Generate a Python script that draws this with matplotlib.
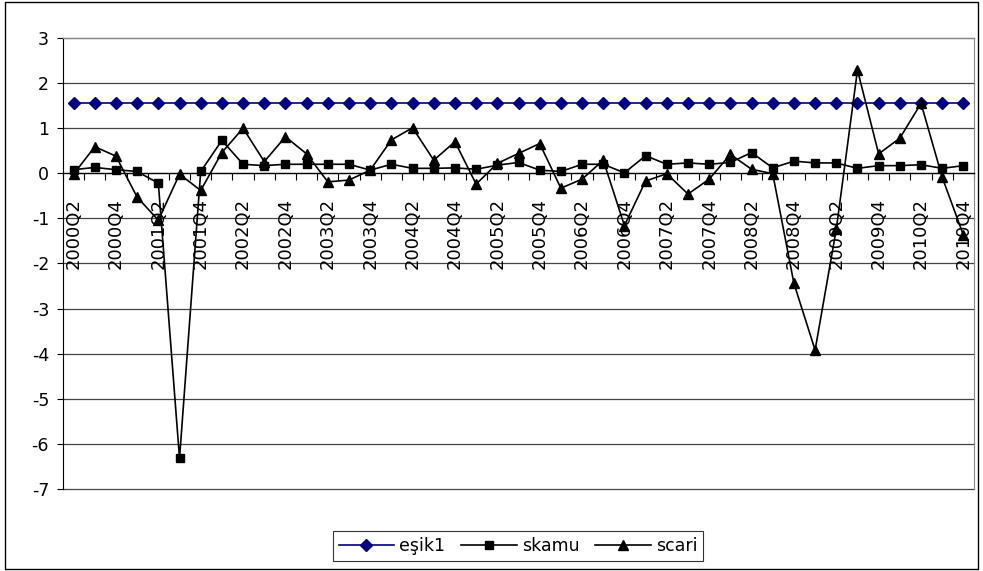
import matplotlib
matplotlib.use("Agg")
import matplotlib.pyplot as plt
from matplotlib.patches import Rectangle
import numpy as np

quarters = [f"{y}Q{q}" for y in range(2000, 2011) for q in range(1, 5)][1:]
esik1 = [1.55] * 43
skamu = [0.08, 0.13, 0.08, 0.04, -0.22, -6.32, 0.04, 0.73, 0.20, 0.17,
         0.20, 0.20, 0.20, 0.20, 0.07, 0.20, 0.11, 0.11, 0.12, 0.09,
         0.18, 0.24, 0.07, 0.04, 0.20, 0.20, 0.01, 0.39, 0.20, 0.23,
         0.20, 0.24, 0.46, 0.12, 0.27, 0.23, 0.23, 0.11, 0.17, 0.17,
         0.19, 0.11, 0.17]
scari = [-0.02, 0.59, 0.38, -0.53, -1.04, -0.02, -0.38, 0.46, 1.00, 0.26,
         0.81, 0.43, -0.19, -0.15, 0.07, 0.74, 1.01, 0.29, 0.70, -0.24,
         0.22, 0.44, 0.66, -0.33, -0.13, 0.29, -1.16, -0.17, -0.01, -0.46,
         -0.13, 0.42, 0.09, -0.01, -2.44, -3.92, -1.24, 2.29, 0.43, 0.78,
         1.55, -0.09, -1.37]

W, H = 983, 571
fig = plt.figure(figsize=(W / 100, H / 100), dpi=100)
ax = fig.add_axes([63 / W, 1 - 489 / H, (974 - 63) / W, (489 - 38) / H])

x = np.arange(len(quarters))
ax.plot(x, esik1, color="#000080", lw=1.2, marker="D", ms=6, label="eşik1", zorder=3)
ax.plot(x, skamu, color="black", lw=1.2, marker="s", ms=6, label="skamu", zorder=4)
ax.plot(x, scari, color="black", lw=1.2, marker="^", ms=7.5, label="scari", zorder=5)

ax.set_xlim(-0.5, len(quarters) - 0.5)
ax.set_ylim(-7, 3)
ax.set_yticks(range(-7, 4))
ax.set_yticklabels([str(v) for v in range(-7, 4)], fontsize=12.5)
for v in range(-7, 4):
    ax.axhline(v, color="#444444", lw=0.9, zorder=1, clip_on=False)

ax.spines["bottom"].set_position(("data", 0))
ax.spines["bottom"].set_color("black")
ax.spines["bottom"].set_linewidth(0.9)
ax.spines["top"].set_color("#888888")
ax.spines["right"].set_color("#888888")
ax.spines["left"].set_color("black")

ax.set_xticks(np.arange(-0.5, len(quarters), 1.0))
ax.tick_params(axis="x", which="major", length=5, direction="out", labelbottom=False)
ax.set_xticks(x[::2], minor=True)
ax.set_xticklabels(quarters[::2], minor=True, rotation=90, fontsize=13)
ax.tick_params(axis="x", which="minor", length=0, pad=18)
ax.tick_params(axis="y", length=4, pad=6)

leg = fig.legend(loc="center", bbox_to_anchor=(0.527, 1 - 546 / H), ncol=3,
                 fontsize=12.5, frameon=True, fancybox=False, edgecolor="black",
                 handlelength=3.2, columnspacing=0.9, handletextpad=0.3,
                 borderpad=0.35)
leg.get_frame().set_linewidth(0.8)

fig.patches.append(Rectangle((5 / W, 2 / H), (W - 10) / W, (H - 4) / H,
                             transform=fig.transFigure, fill=False,
                             edgecolor="black", lw=1.0))

fig.savefig("out.png", dpi=100)
